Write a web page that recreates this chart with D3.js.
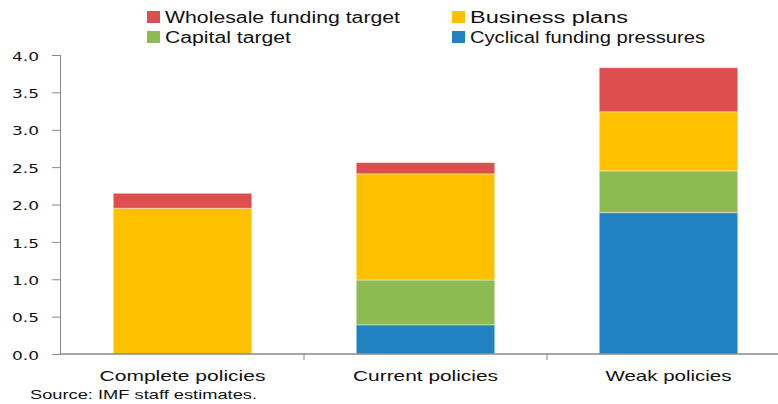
<!DOCTYPE html>
<html><head><meta charset="utf-8">
<script src="https://cdn.jsdelivr.net/npm/d3@7"></script>
<style>body{margin:0;background:#fff}svg{display:block}</style>
</head><body>
<svg id="c" width="778" height="404"></svg>
<script>
const categories = ["Complete policies", "Current policies", "Weak policies"];
const seriesNames = ["Cyclical funding pressures", "Capital target", "Business plans", "Wholesale funding target"];
const cyclical = [0.0, 0.39, 1.89];
const capital = [0.0, 0.60, 0.56];
const business = [1.95, 1.42, 0.79];
const wholesale = [0.20, 0.15, 0.59];
const yTicks = [0, 0.5, 1, 1.5, 2, 2.5, 3, 3.5, 4];
const colors = ["#2281C1", "#8EBB51", "#FFC000", "#DD4F4E"];

(function(){
const svg = d3.select("#c");
const mLeft = 61, mRight = 790, mTop = 55, mBottom = 354;
const x = d3.scaleBand().domain(categories).range([mLeft, mRight]).paddingInner(0.43).paddingOuter(0.215);
const y = d3.scaleLinear().domain([0, 4]).range([mBottom, mTop]);

const data = categories.map((c, i) => ({cat: c, s0: cyclical[i], s1: capital[i], s2: business[i], s3: wholesale[i]}));
const stack = d3.stack().keys(["s0", "s1", "s2", "s3"])(data);

svg.append("g").selectAll("g").data(stack).join("g")
  .attr("fill", (d, i) => colors[i])
  .selectAll("rect").data(d => d).join("rect")
  .attr("x", d => x(d.data.cat))
  .attr("width", x.bandwidth())
  .attr("y", d => y(d[1]))
  .attr("height", d => Math.max(0, y(d[0]) - y(d[1])))
  .attr("stroke", "#fff").attr("stroke-opacity", 0.5).attr("stroke-width", 0.8);

// y axis
const ya = svg.append("g").attr("transform", `translate(${mLeft},0)`)
  .call(d3.axisLeft(y).tickValues(yTicks).tickFormat(d3.format(".1f")).tickSize(9).tickPadding(13));
ya.select(".domain").attr("stroke", "#888").attr("d", `M-0.5,${mTop}V${mBottom}`);
ya.selectAll(".tick line").attr("stroke", "#888");
ya.selectAll(".tick text").attr("font-family", "DejaVu Sans").attr("font-size", 13).attr("fill", "#111")
  .attr("textLength", 27).attr("lengthAdjust", "spacingAndGlyphs").attr("dy", "0.4em");

// x axis
const xa = svg.append("g").attr("transform", `translate(0,${mBottom})`);
xa.append("line").attr("x1", mLeft).attr("x2", 778).attr("y1", 0).attr("y2", 0).attr("stroke", "#888").attr("stroke-width", 1.5);
const step = x.step();
const bounds = categories.slice(1).map(c => x(c) - (step - x.bandwidth()) / 2);
xa.selectAll("line.t").data(bounds).join("line").attr("class", "t")
  .attr("x1", d => d).attr("x2", d => d).attr("y1", 0).attr("y2", 6).attr("stroke", "#888");
const catW = [166, 145, 126];
xa.selectAll("text").data(categories).join("text")
  .attr("x", d => x(d) + x.bandwidth() / 2).attr("y", 27)
  .attr("text-anchor", "middle").attr("font-family", "Liberation Sans").attr("font-size", 15).attr("fill", "#111")
  .attr("textLength", (d, i) => catW[i]).attr("lengthAdjust", "spacingAndGlyphs")
  .text(d => d);

// legend
const legendItems = [
  {name: "Wholesale funding target", c: colors[3], x: 147, y: 11, w: 235},
  {name: "Business plans", c: colors[2], x: 452, y: 11, w: 158},
  {name: "Capital target", c: colors[1], x: 147, y: 31, w: 126},
  {name: "Cyclical funding pressures", c: colors[0], x: 452, y: 31, w: 235}
];
const lg = svg.append("g").selectAll("g").data(legendItems).join("g");
lg.append("rect").attr("x", d => d.x).attr("y", d => d.y).attr("width", 13).attr("height", 12).attr("fill", d => d.c);
lg.append("text").attr("x", d => d.x + 18).attr("y", d => d.y + 11.5)
  .attr("font-family", "Liberation Sans").attr("font-size", 16).attr("fill", "#111")
  .attr("textLength", d => d.w).attr("lengthAdjust", "spacingAndGlyphs").text(d => d.name);

svg.append("text").attr("x", 30).attr("y", 399).attr("font-family", "Liberation Sans").attr("font-size", 13)
  .attr("fill", "#111").attr("textLength", 227).attr("lengthAdjust", "spacingAndGlyphs").text("Source: IMF staff estimates.");
})();
</script>
</body></html>
